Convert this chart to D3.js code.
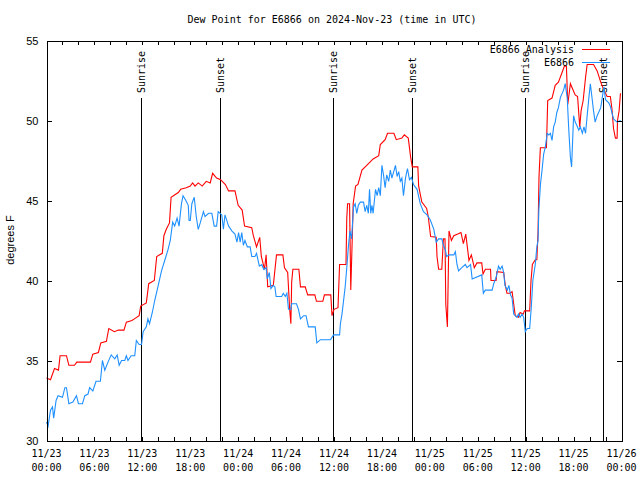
<!DOCTYPE html>
<html>
<head>
<meta charset="utf-8">
<script src="https://cdn.jsdelivr.net/npm/d3@7"></script>
<style>
html,body{margin:0;padding:0;background:#fff;}
svg{display:block;}
</style>
</head>
<body>
<svg id="chart" width="640" height="480"></svg>
<script>
// ---- data (hours since 2024-11-23 00:00 UTC) ----
const analysisHours = [0,0.5,1.0,1.5,1.7,2.5,2.8,3.5,3.8,5.5,5.8,6.5,6.8,7.5,7.8,8.5,9.0,9.7,10.0,10.7,11.0,11.6,11.8,12.5,12.8,13.5,13.8,14.5,14.7,15.0,15.4,15.6,16.5,16.8,17.5,18.0,18.3,18.6,19.0,19.5,20.0,20.5,20.8,21.3,21.8,22.4,22.8,23.6,24.0,24.5,24.8,25.7,25.9,26.3,26.7,26.9,27.3,27.5,27.7,28.4,28.8,29.6,29.8,30.2,30.45,30.6,30.7,30.85,31.6,31.8,32.4,32.7,33.6,33.8,34.6,34.8,35.6,35.75,36.0,36.5,36.7,37.5,37.6,37.7,37.95,38.1,38.25,38.4,38.7,39.0,39.5,40.1,40.9,41.6,41.8,42.4,42.7,43.5,43.8,44.5,44.8,45.3,45.6,45.8,46.5,46.6,47.0,47.6,47.8,48.1,48.8,48.9,49.1,49.5,49.7,49.9,50.0,50.2,50.4,50.7,51.0,51.5,51.9,52.2,52.5,52.9,53.2,53.57,53.9,54.5,54.66,54.95,55.6,55.66,56.3,56.4,57.25,57.45,57.66,58.0,58.3,58.5,58.7,59.1,59.3,59.7,59.84,60.5,60.67,60.84,61.2,61.4,61.55,61.67,61.84,62.6,62.76,63.3,63.7,64.1,64.56,64.85,65.1,65.18,65.27,65.6,66.2,66.5,66.77,66.94,67.2,67.5,67.7,68.5,68.95,69.4,69.8,70.2,70.6,70.8,71.0,71.24,71.45,71.5,71.7,71.87];
const analysisValues = [33.9,33.8,34.5,34.4,35.3,35.3,34.7,34.7,34.9,34.9,35.4,35.5,36.1,36.2,37.0,36.8,36.9,36.9,37.4,37.5,37.6,37.8,38.4,38.6,39.8,40.0,41.5,41.7,42.8,43.2,43.6,45.2,45.5,45.7,45.8,45.9,46.1,45.9,46.1,45.9,46.2,46.1,46.7,46.4,46.3,46.0,45.6,45.6,44.7,44.4,43.4,43.3,42.8,42.1,42.7,41.5,40.7,41.6,39.6,39.7,41.6,41.6,40.8,40.5,38.2,37.3,39.9,40.7,40.7,39.6,39.6,39.1,39.1,38.7,38.7,39.1,39.1,37.8,38.2,38.3,41.0,41.0,43.9,44.8,44.8,39.4,42.0,44.8,45.9,46.0,46.9,47.2,47.6,47.8,48.5,48.8,49.2,49.2,48.8,48.9,49.1,48.9,47.7,47.1,47.1,45.9,44.9,44.5,44.0,42.75,42.7,41.5,40.7,40.7,42.6,42.6,38.5,37.1,43.1,42.5,42.8,42.9,43.0,42.3,42.9,41.25,41.6,40.8,41.1,41.1,40.4,40.7,40.7,40.0,40.0,40.55,40.5,39.7,39.2,39.2,39.3,38.55,37.8,37.7,38.0,37.9,38.1,38.1,40.0,41.0,41.3,41.3,43.0,46.5,48.3,48.3,51.25,51.4,52.2,52.4,53.0,53.4,53.4,52.3,51.0,52.3,51.6,51.5,49.6,50.6,51.25,52.7,53.5,53.5,53.1,52.4,51.9,51.5,51.5,50.75,49.5,48.9,48.9,50.0,50.6,51.7];

const obsHours = [0,0.2,0.5,0.75,0.9,1.2,1.45,2.0,2.3,2.5,2.8,3.3,3.75,4.0,4.5,4.8,5.2,5.4,5.8,6.2,6.75,7.0,7.3,7.7,8.1,8.55,8.85,9.1,9.4,9.8,10.0,10.2,10.6,11.05,11.25,11.6,11.9,12.1,12.5,12.7,12.9,13.25,13.55,13.95,14.4,14.8,15.2,15.5,15.8,16.05,16.35,16.6,16.9,17.1,17.45,17.75,17.85,18.0,18.2,18.5,18.75,19.0,19.25,19.65,19.85,20.3,20.7,21.0,21.3,21.5,21.95,22.15,22.35,22.8,23.2,23.6,23.85,24.05,24.25,24.45,24.65,24.85,25.15,25.5,25.7,26.1,26.3,26.65,26.95,27.2,27.5,27.65,27.9,28.1,28.4,28.6,28.75,29.45,29.65,29.9,30.1,30.3,30.6,30.7,31.3,31.55,31.8,32.2,32.5,32.8,33.65,33.85,34.3,35.55,35.95,36.7,36.8,37.0,37.2,37.4,37.6,37.8,38.0,38.2,38.45,38.65,38.85,39.05,39.3,39.7,39.9,40.1,40.3,40.45,40.6,40.75,40.9,41.2,41.4,41.6,41.8,42.0,42.2,42.4,42.6,42.85,43.05,43.25,43.7,43.9,44.1,44.3,44.5,44.7,44.95,45.2,45.45,45.7,45.95,46.4,46.8,47.2,47.65,48.05,48.5,48.8,49.1,49.5,49.7,49.95,50.1,50.4,51.0,51.2,51.4,51.6,52.0,52.45,52.65,53.1,53.3,54.5,54.7,54.95,55.8,56.0,56.3,56.6,56.8,57.05,57.25,57.4,57.7,57.9,58.1,58.3,58.5,58.9,59.1,59.3,59.55,59.75,59.95,60.2,60.5,60.7,60.9,61.2,61.4,61.55,61.65,61.85,62.05,62.25,62.45,62.7,62.9,63.1,63.3,63.5,63.7,63.9,64.1,64.35,64.75,64.95,65.2,65.4,65.6,65.75,65.9,66.0,66.2,66.4,66.65,66.85,67.1,67.3,67.5,67.7,67.9,68.1,68.3,68.5,68.7,68.95,69.4,69.8,70.0,70.4,70.6,70.8,71.0,71.45,71.9];
const obsValues = [31.15,30.9,31.9,32.1,31.4,32.5,32.8,32.7,33.3,33.3,32.3,32.4,32.8,32.3,32.3,32.8,32.9,33.3,33.1,33.7,33.7,35.0,34.4,34.9,35.35,35.1,35.35,34.7,35.0,35.0,35.3,35.0,35.3,35.3,36.25,36.0,36.0,36.8,37.1,37.6,37.3,38.0,38.75,39.6,40.6,41.25,41.9,42.5,43.65,43.4,43.9,43.4,44.8,45.3,45.0,44.7,43.75,43.75,44.8,45.2,44.0,43.2,43.6,44.3,44.0,44.2,44.2,43.4,43.4,44.3,44.1,43.2,44.1,43.4,43.1,42.9,42.4,43.0,42.4,43.0,42.2,42.5,42.1,42.1,41.5,41.5,41.7,40.9,41.0,40.7,40.8,40.1,40.5,39.5,39.7,39.6,39.0,39.0,39.2,39.0,39.2,38.2,38.2,38.55,38.55,38.2,37.6,37.8,37.8,37.1,37.1,36.1,36.3,36.3,36.6,36.6,37.3,37.9,38.75,39.6,40.8,42.1,43.1,42.6,44.6,44.8,44.2,44.7,44.9,44.9,44.3,44.7,44.2,45.7,44.2,44.7,44.2,45.7,45.3,45.8,45.3,47.2,46.6,45.8,46.6,46.2,46.9,46.4,47.2,46.5,46.8,46.2,46.4,45.3,46.4,47.0,46.3,46.45,46.0,45.7,44.8,44.3,44.1,43.8,43.2,42.4,42.6,42.6,42.2,41.9,41.5,41.6,41.6,41.8,41.0,40.6,40.8,41.0,40.8,41.0,40.1,40.35,39.2,39.4,39.4,39.8,40.2,40.9,40.7,40.9,40.5,39.7,39.4,39.7,39.1,38.9,37.9,37.7,37.9,37.7,37.9,37.7,36.8,37.0,37.0,38.3,40.0,41.0,42.1,42.5,44.4,46.0,46.9,47.9,48.3,49.2,49.1,49.2,48.75,49.6,49.9,50.5,50.8,51.45,51.9,52.3,51.45,49.4,47.7,47.1,49.0,50.3,49.9,49.7,49.4,49.6,49.2,49.6,49.2,50.3,51.35,52.3,51.45,50.6,49.9,50.3,50.8,52.1,51.3,51.1,50.9,50.5,50.1,49.9,50.0];

const sunEventHours = [11.87,21.76,35.91,45.81,59.94,69.72];
const sunEventLabels = ["Sunrise","Sunset","Sunrise","Sunset","Sunrise","Sunset"];
const yTickValues = [30,35,40,45,50,55];
const seriesNames = ["E6866 Analysis","E6866"];
const seriesColors = ["#ff0000","#1e90ff"];
const titleText = "Dew Point for E6866 on 2024-Nov-23 (time in UTC)";
const yLabelText = "degrees F";

// ---- layout ----
const svg = d3.select("#chart");
const L = 46.5, R = 621.5, T = 40.5, B = 440.5;
const t0 = Date.UTC(2024,10,23,0,0);
const toDate = h => new Date(t0 + h*3600000);
const x = d3.scaleUtc().domain([toDate(0), toDate(72)]).range([L, R]);
const y = d3.scaleLinear().domain([30,55]).range([B, T]);
const mono = "'DejaVu Sans Mono', monospace";
const sans = "'Liberation Sans', Arial, sans-serif";

// title
svg.append("text").attr("x", 332).attr("y", 23).attr("text-anchor","middle")
  .style("font-family", mono).style("font-size","10px").text(titleText);

// y label
svg.append("text").attr("transform","translate(14,240) rotate(-90)").attr("text-anchor","middle")
  .style("font-family", sans).style("font-size","11px").text(yLabelText);

// sun event lines
sunEventHours.forEach((h,i) => {
  const xx = Math.round(x(toDate(h))) + 0.5;
  svg.append("line").attr("x1",xx).attr("x2",xx).attr("y1",98).attr("y2",B)
    .attr("stroke","#000").attr("stroke-width",1).attr("shape-rendering","crispEdges");
  svg.append("text").attr("transform",`translate(${xx+3.5},93) rotate(-90)`)
    .attr("text-anchor","start").style("font-family", mono).style("font-size","10px")
    .text(sunEventLabels[i]);
});

// series
const lineGen = d3.line().x(d => x(toDate(d[0]))).y(d => y(d[1]));
const seriesData = [
  d3.zip(analysisHours, analysisValues),
  d3.zip(obsHours, obsValues)
];
seriesData.forEach((s,i) => {
  svg.append("path").datum(s).attr("d", lineGen).attr("fill","none")
    .attr("stroke", seriesColors[i]).attr("stroke-width",1.1);
});

// axes (ticks inward)
const ax = d3.axisBottom(x).ticks(d3.utcHour.every(2)).tickSize(-4).tickFormat("");
const gb = svg.append("g").attr("transform",`translate(0,${B})`).call(ax);
const gt = svg.append("g").attr("transform",`translate(0,${T})`).call(d3.axisTop(x).ticks(d3.utcHour.every(2)).tickSize(-4).tickFormat(""));
const gl = svg.append("g").attr("transform",`translate(${L},0)`).call(d3.axisLeft(y).tickValues(yTickValues).tickSize(-5).tickPadding(8).tickFormat(d3.format("d")));
const gr = svg.append("g").attr("transform",`translate(${R},0)`).call(d3.axisRight(y).tickValues(yTickValues).tickSize(-5).tickFormat(""));
[gb,gt,gl,gr].forEach(g => {
  g.selectAll("path.domain").attr("stroke","#000").attr("shape-rendering","crispEdges");
  g.selectAll(".tick line").attr("stroke","#000").attr("shape-rendering","crispEdges");
});
gl.selectAll(".tick text").style("font-family", sans).style("font-size","11px").attr("fill","#000");
gl.selectAll(".tick line").filter(d => d===30 || d===55).remove();
gr.selectAll(".tick line").filter(d => d===30 || d===55).remove();

// x tick labels (every 6h), two lines
const fmtDate = d3.utcFormat("%m/%d"), fmtTime = d3.utcFormat("%H:%M");
const labelTicks = d3.utcHour.every(6).range(toDate(0), toDate(72.01));
const gx = svg.append("g");
labelTicks.forEach(d => {
  const t = gx.append("text").attr("x", x(d)).attr("y", 457).attr("text-anchor","middle")
    .style("font-family", mono).style("font-size","10px");
  t.append("tspan").attr("x", x(d)).attr("y",457).text(fmtDate(d));
  t.append("tspan").attr("x", x(d)).attr("y",471).text(fmtTime(d));
});

// legend
seriesNames.forEach((n,i) => {
  const ly = 49 + i*13;
  svg.append("text").attr("x",574).attr("y",ly+4).attr("text-anchor","end")
    .style("font-family", mono).style("font-size","10px").text(n);
  svg.append("line").attr("x1",582).attr("x2",610).attr("y1",ly+0.5).attr("y2",ly+0.5)
    .attr("stroke",seriesColors[i]).attr("stroke-width",1).attr("shape-rendering","crispEdges");
});
</script>
</body>
</html>
